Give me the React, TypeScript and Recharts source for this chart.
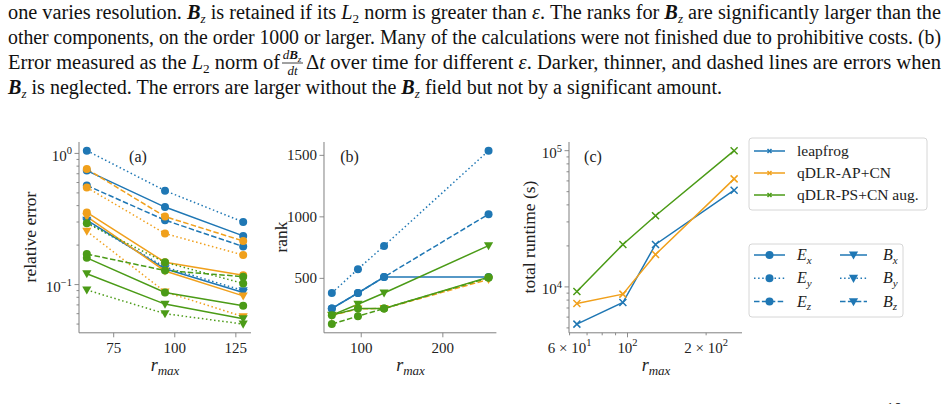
import { LineChart, Line, XAxis, YAxis } from 'recharts'
import type { ReactNode } from 'react'

const BLUE = '#1f77b4'
const ORANGE = '#f0a01c'
const GREEN = '#4b9b17'
const FRAME = '#7f7f7f'
const SERIF = '"Liberation Serif", "Times New Roman", serif'

// (a) relative error against r_max
const rA = [64, 96, 128]
const errLeapEx = [0.74, 0.39, 0.235]
const errLeapEy = [1.05, 0.52, 0.3]
const errLeapEz = [0.57, 0.31, 0.195]
const errLeapBx = [0.31, 0.132, 0.087]
const errLeapBy = [0.3, 0.136, 0.09]
const errApEx = [0.355, 0.148, 0.118]
const errApEy = [0.55, 0.245, 0.168]
const errApEz = [0.76, 0.33, 0.215]
const errApBx = [0.33, 0.127, 0.082]
const errApBy = [0.255, 0.088, 0.057]
const errPsEx = [0.16, 0.087, 0.069]
const errPsEy = [0.293, 0.148, 0.102]
const errPsEz = [0.171, 0.128, 0.115]
const errPsBx = [0.121, 0.071, 0.055]
const errPsBy = [0.091, 0.06, 0.05]

// (b) rank against r_max
const rB = [64, 96, 128, 256]
const rankLeapEx = [255, 381, 511, 511]
const rankLeapEy = [381, 575, 764, 1538]
const rankLeapEz = [255, 381, 511, 1022]
const rankApEx = [198, 252, 255, 492]
const rankPsEz = [128, 193, 255, 505]
const rankPsEx = [201, 255, 255, 510]
const rankPsBx = [201, 290, 381, 766]

// (c) total runtime against r_max
const rC = [64, 96, 128, 256]
const runLeap = [5330, 7680, 20500, 51300]
const runAp = [7550, 8850, 17300, 62100]
const runPs = [9250, 20500, 33300, 100000]

const methods = [
  { name: 'leapfrog', color: BLUE },
  { name: 'qDLR-AP+CN', color: ORANGE },
  { name: 'qDLR-PS+CN aug.', color: GREEN },
]
const components = [
  { sym: 'E', sub: 'x', dash: 'solid', marker: 'o' },
  { sym: 'E', sub: 'y', dash: 'dotted', marker: 'o' },
  { sym: 'E', sub: 'z', dash: 'dashed', marker: 'o' },
  { sym: 'B', sub: 'x', dash: 'solid', marker: 'v' },
  { sym: 'B', sub: 'y', dash: 'dotted', marker: 'v' },
  { sym: 'B', sub: 'z', dash: 'dashed', marker: 'v' },
]

const DASH: Record<string, string | undefined> = { solid: undefined, dotted: '1.5 2.6', dashed: '5.5 2.4' }

type Spec = { key: string; values: number[]; color: string; dash: string; marker: string }

const specsA: Spec[] = [
  { key: 'leapEx', values: errLeapEx, color: BLUE, dash: 'solid', marker: 'o' },
  { key: 'leapEy', values: errLeapEy, color: BLUE, dash: 'dotted', marker: 'o' },
  { key: 'leapEz', values: errLeapEz, color: BLUE, dash: 'dashed', marker: 'o' },
  { key: 'leapBx', values: errLeapBx, color: BLUE, dash: 'solid', marker: 'v' },
  { key: 'leapBy', values: errLeapBy, color: BLUE, dash: 'dotted', marker: 'v' },
  { key: 'apEx', values: errApEx, color: ORANGE, dash: 'solid', marker: 'o' },
  { key: 'apEy', values: errApEy, color: ORANGE, dash: 'dotted', marker: 'o' },
  { key: 'apEz', values: errApEz, color: ORANGE, dash: 'dashed', marker: 'o' },
  { key: 'apBx', values: errApBx, color: ORANGE, dash: 'solid', marker: 'v' },
  { key: 'apBy', values: errApBy, color: ORANGE, dash: 'dotted', marker: 'v' },
  { key: 'psEx', values: errPsEx, color: GREEN, dash: 'solid', marker: 'o' },
  { key: 'psEy', values: errPsEy, color: GREEN, dash: 'dotted', marker: 'o' },
  { key: 'psEz', values: errPsEz, color: GREEN, dash: 'dashed', marker: 'o' },
  { key: 'psBx', values: errPsBx, color: GREEN, dash: 'solid', marker: 'v' },
  { key: 'psBy', values: errPsBy, color: GREEN, dash: 'dotted', marker: 'v' },
]

const specsB: Spec[] = [
  { key: 'leapEy', values: rankLeapEy, color: BLUE, dash: 'dotted', marker: 'o' },
  { key: 'leapEz', values: rankLeapEz, color: BLUE, dash: 'dashed', marker: 'o' },
  { key: 'leapEx', values: rankLeapEx, color: BLUE, dash: 'solid', marker: 'o' },
  { key: 'apEx', values: rankApEx, color: ORANGE, dash: 'dashed', marker: 'v' },
  { key: 'psEz', values: rankPsEz, color: GREEN, dash: 'dashed', marker: 'o' },
  { key: 'psEx', values: rankPsEx, color: GREEN, dash: 'solid', marker: 'o' },
  { key: 'psBx', values: rankPsBx, color: GREEN, dash: 'solid', marker: 'v' },
]

const specsC: Spec[] = [
  { key: 'leap', values: runLeap, color: BLUE, dash: 'solid', marker: 'x' },
  { key: 'ap', values: runAp, color: ORANGE, dash: 'solid', marker: 'x' },
  { key: 'ps', values: runPs, color: GREEN, dash: 'solid', marker: 'x' },
]

const toRows = (xs: number[], specs: Spec[]) =>
  xs.map((r, i) => {
    const row: any = { r }
    specs.forEach((s) => (row[s.key] = s.values[i]))
    return row
  })

const sci = (m: string | null, e: string) => (
  <>
    <tspan>{m ? `${m} × 10` : '10'}</tspan>
    <tspan dy={-6.5} fontSize={10.5}>{e}</tspan>
  </>
)

type Tick = { v: number; label?: ReactNode; major?: boolean; sup?: boolean }

const logMinor = (vals: number[]): Tick[] => vals.map((v) => ({ v }))

const ticksAx: Tick[] = [75, 100, 125].map((v) => ({ v, label: String(v), major: true }))
const ticksAy: Tick[] = [
  ...logMinor([0.05, 0.06, 0.07, 0.08, 0.09]),
  { v: 0.1, label: sci(null, '−1'), major: true, sup: true },
  ...logMinor([0.2, 0.3, 0.4, 0.5, 0.6, 0.7, 0.8, 0.9]),
  { v: 1, label: sci(null, '0'), major: true, sup: true },
]
const ticksBx: Tick[] = [100, 200].map((v) => ({ v, label: String(v), major: true }))
const ticksBy: Tick[] = [500, 1000, 1500].map((v) => ({ v, label: String(v), major: true }))
const ticksCx: Tick[] = [
  { v: 60, label: sci('6', '1') },
  { v: 70 },
  { v: 80 },
  { v: 90 },
  { v: 100, label: sci(null, '2'), major: true },
  { v: 200, label: sci('2', '2') },
]
const ticksCy: Tick[] = [
  ...logMinor([5000, 6000, 7000, 8000, 9000]),
  { v: 10000, label: sci(null, '4'), major: true, sup: true },
  ...logMinor([20000, 30000, 40000, 50000, 60000, 70000, 80000, 90000]),
  { v: 100000, label: sci(null, '5'), major: true, sup: true },
]

const find = (ticks: Tick[], v: number) => ticks.find((t) => Math.abs(t.v - v) < 1e-9 * Math.max(1, v))

const YTick = (ticks: Tick[]) => (p: any) => {
  const t = find(ticks, p.payload.value)
  if (!t) return <g />
  const len = t.major ? 4.5 : 2.5
  return (
    <g>
      <line x1={p.x - len} x2={p.x} y1={p.y} y2={p.y} stroke={FRAME} strokeWidth={0.9} />
      {t.label && (
        <text x={p.x - 7} y={p.y + (t.sup ? 7.5 : 5)} textAnchor="end" fontFamily={SERIF} fontSize={15} fill="#222">
          {t.label}
        </text>
      )}
    </g>
  )
}

const XTick = (ticks: Tick[]) => (p: any) => {
  const t = find(ticks, p.payload.value)
  if (!t) return <g />
  const len = t.major ? 4.5 : 2.5
  return (
    <g>
      <line x1={p.x} x2={p.x} y1={p.y} y2={p.y + len} stroke={FRAME} strokeWidth={0.9} />
      {t.label && (
        <text x={p.x} y={p.y + 20} textAnchor="middle" fontFamily={SERIF} fontSize={15} fill="#222">
          {t.label}
        </text>
      )}
    </g>
  )
}

const drawMarker = (kind: string, color: string, cx: number, cy: number, key?: any) => {
  if (kind === 'o') return <circle key={key} cx={cx} cy={cy} r={4} fill={color} />
  if (kind === 'v') {
    const s = 4.6
    return <path key={key} d={`M${cx - s},${cy - s * 0.75}L${cx + s},${cy - s * 0.75}L${cx},${cy + s}Z`} fill={color} />
  }
  const s = 3.5
  return (
    <path key={key} d={`M${cx - s},${cy - s}L${cx + s},${cy + s}M${cx - s},${cy + s}L${cx + s},${cy - s}`} stroke={color} strokeWidth={1.5} />
  )
}

const dotFn = (kind: string, color: string) => (p: any) => {
  if (p.cx == null || p.cy == null || Number.isNaN(p.cy)) return <g key={p.key} />
  return drawMarker(kind, color, p.cx, p.cy, p.key)
}

type Frame = { l: number; r: number; t: number; b: number }

function Panel(props: {
  frame: Frame
  xs: number[]
  specs: Spec[]
  xDomain: number[]
  yDomain: number[]
  xLog?: boolean
  yLog?: boolean
  xTicks: Tick[]
  yTicks: Tick[]
}) {
  const { frame, xs, specs, xDomain, yDomain, xLog, yLog, xTicks, yTicks } = props
  const w = frame.r - frame.l
  const h = frame.b - frame.t
  const data = toRows(xs, specs)
  return (
    <div style={{ position: 'absolute', left: frame.l - 60, top: frame.t - 10 }}>
      <LineChart width={w + 70} height={h + 50} data={data} margin={{ top: 10, right: 10, bottom: 0, left: 0 }}>
        <XAxis
          dataKey="r"
          type="number"
          scale={xLog ? 'log' : 'linear'}
          domain={xDomain}
          allowDataOverflow
          ticks={xTicks.map((t) => t.v)}
          interval={0}
          tickSize={0}
          tickMargin={0}
          tickLine={false}
          tick={XTick(xTicks)}
          axisLine={{ stroke: FRAME }}
          height={40}
        />
        <XAxis
          xAxisId="top"
          orientation="top"
          dataKey="r"
          type="number"
          scale={xLog ? 'log' : 'linear'}
          domain={xDomain}
          allowDataOverflow
          height={0}
          tick={false}
          tickLine={false}
          axisLine={{ stroke: FRAME }}
        />
        <YAxis
          type="number"
          scale={yLog ? 'log' : 'linear'}
          domain={yDomain}
          allowDataOverflow
          ticks={yTicks.map((t) => t.v)}
          interval={0}
          tickSize={0}
          tickMargin={0}
          tickLine={false}
          tick={YTick(yTicks)}
          axisLine={{ stroke: FRAME }}
          width={60}
        />
        <YAxis
          yAxisId="right"
          orientation="right"
          type="number"
          domain={yDomain}
          allowDataOverflow
          width={0}
          tick={false}
          tickLine={false}
          axisLine={{ stroke: FRAME }}
        />
        {specs.map((s) => (
          <Line
            key={s.key}
            dataKey={s.key}
            stroke={s.color}
            strokeWidth={1.5}
            strokeDasharray={DASH[s.dash]}
            dot={dotFn(s.marker, s.color)}
            activeDot={false}
            isAnimationActive={false}
          />
        ))}
      </LineChart>
    </div>
  )
}

type Run = [string, string]

function Runs({ runs, subSize = 13, subDy = 4 }: { runs: Run[]; subSize?: number; subDy?: number }) {
  let shift = 0
  return (
    <>
      {runs.map(([t, k], i) => {
        const isSub = k.startsWith('sub')
        const target = isSub ? subDy : 0
        const dy = target - shift
        shift = target
        return (
          <tspan
            key={i}
            dy={dy || undefined}
            fontSize={isSub ? subSize : undefined}
            fontWeight={k === 'bi' ? 'bold' : undefined}
            fontStyle={k === 'bi' || k === 'i' || k === 'sub' ? 'italic' : undefined}
          >
            {t}
          </tspan>
        )
      })}
    </>
  )
}

const Bz: Run[] = [['B', 'bi'], ['z', 'sub']]
const L2: Run[] = [['L', 'i'], ['2', 'subr']]

const para: { x: number; y: number; len: number; runs: Run[] }[] = [
  {
    x: 8, y: 18.5, len: 933,
    runs: [['one varies resolution. ', 'r'], ...Bz, [' is retained if its ', 'r'], ...L2, [' norm is greater than ', 'r'], ['ε', 'i'], ['. The ranks for ', 'r'], ...Bz, [' are significantly larger than the', 'r']],
  },
  {
    x: 8, y: 43.5, len: 933,
    runs: [['other components, on the order 1000 or larger. Many of the calculations were not finished due to prohibitive costs. (b)', 'r']],
  },
  {
    x: 8, y: 68.5, len: 272,
    runs: [['Error measured as the ', 'r'], ...L2, [' norm of', 'r']],
  },
  {
    x: 306, y: 68.5, len: 635,
    runs: [['Δ', 'r'], ['t', 'i'], [' over time for different ', 'r'], ['ε', 'i'], ['. Darker, thinner, and dashed lines are errors when', 'r']],
  },
  {
    x: 8, y: 93.5, len: 714,
    runs: [...Bz, [' is neglected. The errors are larger without the ', 'r'], ...Bz, [' field but not by a significant amount.', 'r']],
  },
]

function Overlay() {
  const rmax = (cx: number) => (
    <text x={cx} y={371} textAnchor="middle" fontFamily={SERIF} fontSize={18} fill="#222">
      <Runs runs={[['r', 'i'], ['max', 'sub']]} subSize={13} subDy={4} />
    </text>
  )
  const vlabel = (cx: number, text: string) => (
    <text x={0} y={0} transform={`translate(${cx},237) rotate(-90)`} textAnchor="middle" fontFamily={SERIF} fontSize={17.5} fill="#222" dominantBaseline="central">
      {text}
    </text>
  )
  const handle = (x1: number, x2: number, y: number, color: string, dash: string, marker: string) => (
    <g>
      <line x1={x1} x2={x2} y1={y} y2={y} stroke={color} strokeWidth={1.5} strokeDasharray={DASH[dash]} />
      {marker === 'x'
        ? <path d={`M${(x1 + x2) / 2 - 2},${y - 2}L${(x1 + x2) / 2 + 2},${y + 2}M${(x1 + x2) / 2 - 2},${y + 2}L${(x1 + x2) / 2 + 2},${y - 2}`} stroke={color} strokeWidth={1.5} />
        : drawMarker(marker, color, (x1 + x2) / 2, y)}
    </g>
  )
  return (
    <svg width={948} height={404} style={{ position: 'absolute', left: 0, top: 0, pointerEvents: 'none' }}>
      {para.map((p, i) => (
        <text key={i} x={p.x} y={p.y} textLength={p.len} lengthAdjust="spacingAndGlyphs" fontFamily={SERIF} fontSize={20} fill="#111" style={{ whiteSpace: 'pre' }}>
          <Runs runs={p.runs} />
        </text>
      ))}
      <text x={292} y={59} textAnchor="middle" fontFamily={SERIF} fontSize={13} fill="#111">
        <Runs runs={[['d', 'i'], ['B', 'bi'], ['z', 'sub']]} subSize={9} subDy={3} />
      </text>
      <line x1={282} x2={303} y1={63} y2={63} stroke="#111" strokeWidth={0.8} />
      <text x={292.5} y={75} textAnchor="middle" fontFamily={SERIF} fontSize={13} fontStyle="italic" fill="#111">dt</text>
      <text x={886} y={414} fontFamily={SERIF} fontSize={16} fill="#111">10</text>

      {vlabel(30, 'relative error')}
      {vlabel(281, 'rank')}
      {vlabel(529, 'total runtime (s)')}
      {rmax(165)}
      {rmax(410.5)}
      {rmax(656)}

      <text x={138} y={162} textAnchor="middle" fontFamily={SERIF} fontSize={16} fill="#222">(a)</text>
      <text x={349.5} y={162} textAnchor="middle" fontFamily={SERIF} fontSize={16} fill="#222">(b)</text>
      <text x={593} y={162} textAnchor="middle" fontFamily={SERIF} fontSize={16} fill="#222">(c)</text>

      <rect x={749} y={138} width={178} height={72} rx={3} fill="#fff" fillOpacity={0.8} stroke="#d6d6d6" />
      {methods.map((m, i) => (
        <g key={m.name}>
          {handle(754, 785, 151 + i * 22, m.color, 'solid', 'x')}
          <text x={797} y={156 + i * 22} fontFamily={SERIF} fontSize={15.5} fill="#222">{m.name}</text>
        </g>
      ))}

      <rect x={749} y={244} width={154} height={73} rx={3} fill="#fff" fillOpacity={0.8} stroke="#d6d6d6" />
      {components.map((c, i) => {
        const col = Math.floor(i / 3)
        const row = i % 3
        const y = 255 + row * 23.3
        const hx = col === 0 ? 754 : 840
        const tx = col === 0 ? 797 : 883
        return (
          <g key={c.sym + c.sub}>
            {handle(hx, hx + (col === 0 ? 31 : 27), y, BLUE, c.dash, c.marker)}
            <text x={tx} y={y + 5} fontFamily={SERIF} fontSize={16} fill="#222">
              <Runs runs={[[c.sym, 'i'], [c.sub, 'sub']]} subSize={11} subDy={3.5} />
            </text>
          </g>
        )
      })}
    </svg>
  )
}

export default function App() {
  return (
    <div style={{ position: 'fixed', left: 0, top: 0, width: 948, height: 404, overflow: 'hidden', background: '#fff' }}>
      <Panel
        frame={{ l: 79, r: 251, t: 141.5, b: 332.3 }}
        xs={rA}
        specs={specsA}
        xDomain={[60.8, 131.2]}
        yDomain={[0.0429, 1.222]}
        yLog
        xTicks={ticksAx}
        yTicks={ticksAy}
      />
      <Panel
        frame={{ l: 324.3, r: 496.7, t: 141.5, b: 332.3 }}
        xs={rB}
        specs={specsB}
        xDomain={[54.4, 265.6]}
        yDomain={[57.5, 1608.5]}
        xTicks={ticksBx}
        yTicks={ticksBy}
      />
      <Panel
        frame={{ l: 569.3, r: 742.3, t: 141.5, b: 332.3 }}
        xs={rC}
        specs={specsC}
        xDomain={[59.7, 274.4]}
        yDomain={[4603, 115800]}
        xLog
        yLog
        xTicks={ticksCx}
        yTicks={ticksCy}
      />
      <Overlay />
    </div>
  )
}
